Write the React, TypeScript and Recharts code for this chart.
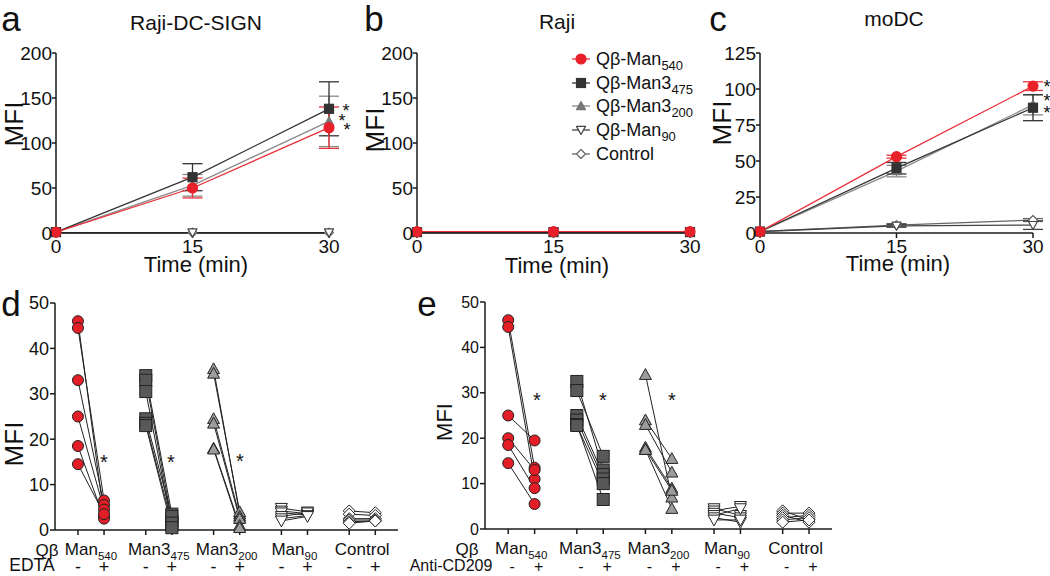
import React from 'react'
import { LineChart, Line, XAxis, YAxis, ErrorBar, ScatterChart, Scatter } from 'recharts'

const FONT = '"Liberation Sans", Arial, Helvetica, sans-serif'
const INK = '#1a1a1a'

// ---- time course panels (a-c) ----
const times = [0, 15, 30]

const aMan540 = [1, 50, 117]
const aMan540Err = [0, 11, 23]
const aMan3_475 = [1, 62, 138]
const aMan3_475Err = [0, 15, 30]
const aMan3_200 = [1, 53, 124]
const aMan3_200Err = [0, 12, 28]
const aMan90 = [0.5, 0.5, 0.5]
const aControl = [0.5, 0.5, 0.5]

const bMan540 = [1.5, 1.5, 1.5]
const bMan3_475 = [1, 1, 1]
const bMan3_200 = [1, 1, 1]
const bMan90 = [0.5, 0.5, 0.5]
const bControl = [0.5, 0.5, 0.5]

const cMan540 = [1, 53, 102]
const cMan540Err = [0, 1, 3]
const cMan3_475 = [1, 45, 87]
const cMan3_475Err = [0, 4, 9]
const cMan3_200 = [1, 43, 89]
const cMan3_200Err = [0, 4, 7]
const cMan90 = [1, 5, 5.5]
const cMan90Err = [0, 1, 3]
const cControl = [1, 5.5, 9]
const cControlErr = [0, 1, 1]

// ---- paired panels (d, e) ----
const groupBase = ['Man', 'Man3', 'Man3', 'Man', 'Control']
const groupSub = ['540', '475', '200', '90', '']

const dMan540Minus = [46, 44.5, 33, 25, 18.5, 14.5]
const dMan540Plus = [3, 6.5, 5.5, 4.5, 2.5, 3.5]
const dMan3_475Minus = [34, 33, 30.5, 24.5, 23.5, 23]
const dMan3_475Plus = [3.5, 2, 1, 3, 1.5, 0.5]
const dMan3_200Minus = [35.5, 34.5, 24.5, 23.5, 18, 17.8]
const dMan3_200Plus = [3.5, 4, 3, 2.5, 1, 0.5]
const dMan90Minus = [4.8, 4.2, 3.8, 3, 2.5, 2]
const dMan90Plus = [4, 3.6, 3.3, 3.8, 3.2, 3]
const dControlMinus = [4.2, 3.5, 2.5, 2.2, 1.8, 1.5]
const dControlPlus = [3.8, 3.2, 2.5, 2.2, 2, 2]

const eMan540Minus = [46, 44.5, 25, 20, 18.5, 14.5]
const eMan540Plus = [13.5, 11, 19.5, 13, 9, 5.5]
const eMan3_475Minus = [32.5, 30.5, 25, 24, 23, 22.8]
const eMan3_475Plus = [13, 16, 12, 11, 6.5, 10]
const eMan3_200Minus = [34, 24, 23, 18, 17.5, 17.5]
const eMan3_200Plus = [7, 15.5, 12.5, 9, 8.5, 4.5]
const eMan90Minus = [4.5, 4, 3.5, 3, 2.5, 2]
const eMan90Plus = [3, 5, 2.5, 4.5, 1.5, 2]
const eControlMinus = [4, 3.5, 3, 2.5, 2, 1.5]
const eControlPlus = [2, 3.5, 1.5, 3, 2.5, 2]

// draw order: bottom first
const SERIES = [
  { key: 'control', shape: 'diamond', fill: '#fff', stroke: '#666', line: '#666' },
  { key: 'man90', shape: 'down', fill: '#fff', stroke: '#444', line: '#444' },
  { key: 'man3_200', shape: 'triangle', fill: '#777', stroke: '#777', line: '#8a8a8a' },
  { key: 'man3_475', shape: 'square', fill: '#333', stroke: '#333', line: '#333' },
  { key: 'man540', shape: 'circle', fill: '#e8202a', stroke: '#e8202a', line: '#e8313a' },
]

const LEGEND = [
  { base: 'Qβ-Man', sub: '540', s: SERIES[4] },
  { base: 'Qβ-Man3', sub: '475', s: SERIES[3] },
  { base: 'Qβ-Man3', sub: '200', s: SERIES[2] },
  { base: 'Qβ-Man', sub: '90', s: SERIES[1] },
  { base: 'Control', sub: '', s: SERIES[0] },
]

const PAIR_STYLE = [
  { shape: 'circle', fill: '#e31e26' },
  { shape: 'square', fill: '#585858' },
  { shape: 'triangle', fill: '#9c9c9c' },
  { shape: 'down', fill: '#fff' },
  { shape: 'diamond', fill: '#fff' },
]

const STEP = 2.6
const pairTicks = groupBase.flatMap((_, i) => [i * STEP, i * STEP + 1])

function Marker({ shape, cx, cy, size, fill, stroke, sw = 1 }: any) {
  const h = size / 2
  if (cx == null || cy == null) return <g />
  if (shape === 'circle') return <circle cx={cx} cy={cy} r={h} fill={fill} stroke={stroke} strokeWidth={sw} />
  if (shape === 'square')
    return <rect x={cx - h} y={cy - h} width={size} height={size} fill={fill} stroke={stroke} strokeWidth={sw} />
  let pts = ''
  if (shape === 'triangle') pts = `${cx},${cy - h} ${cx + h},${cy + h * 0.8} ${cx - h},${cy + h * 0.8}`
  else if (shape === 'down') pts = `${cx - h},${cy - h * 0.8} ${cx + h},${cy - h * 0.8} ${cx},${cy + h}`
  else pts = `${cx},${cy - h} ${cx + h},${cy} ${cx},${cy + h} ${cx - h},${cy}`
  return <polygon points={pts} fill={fill} stroke={stroke} strokeWidth={sw} strokeLinejoin="round" />
}

function timeRows(series: number[][], errs: (number[] | null)[]) {
  return times.map((t, i) => {
    const row: any = { t }
    SERIES.forEach((s, k) => {
      row[s.key] = series[k][i]
      if (errs[k]) row[s.key + 'Err'] = (errs[k] as number[])[i]
    })
    return row
  })
}

const aRows = timeRows(
  [aControl, aMan90, aMan3_200, aMan3_475, aMan540],
  [null, null, aMan3_200Err, aMan3_475Err, aMan540Err]
)
const bRows = timeRows([bControl, bMan90, bMan3_200, bMan3_475, bMan540], [null, null, null, null, null])
const cRows = timeRows(
  [cControl, cMan90, cMan3_200, cMan3_475, cMan540],
  [cControlErr, cMan90Err, cMan3_200Err, cMan3_475Err, cMan540Err]
)

const tickStyle = { fill: '#111', fontSize: 19, fontFamily: FONT }

function TimePanel({ left, width, plotLeft, plotRight, rows, yMax, yTicks }: any) {
  return (
    <div style={{ position: 'absolute', left, top: 0 }}>
      <LineChart
        width={width}
        height={290}
        data={rows}
        margin={{ top: 53, right: left + width - plotRight, left: 0, bottom: 0 }}
      >
        <XAxis
          type="number"
          dataKey="t"
          domain={[0, 30]}
          ticks={[0, 15, 30]}
          height={57}
          tickSize={5}
          tickMargin={2}
          tick={tickStyle}
          stroke={INK}
          strokeWidth={1.5}
        />
        <YAxis
          domain={[0, yMax]}
          ticks={yTicks}
          width={plotLeft - left}
          tickSize={4}
          tickMargin={0}
          tick={tickStyle}
          stroke={INK}
          strokeWidth={1.5}
        />
        {SERIES.map((s) => (
          <Line
            key={s.key}
            dataKey={s.key}
            stroke={s.line}
            strokeWidth={1.3}
            isAnimationActive={false}
            dot={(p: any) => (
              <Marker
                key={`${s.key}-${p.index}`}
                shape={s.shape}
                cx={p.cx}
                cy={p.cy}
                size={s.shape === 'circle' ? 10 : 9}
                fill={s.fill}
                stroke={s.stroke}
                sw={1.2}
              />
            )}
            activeDot={false}
          >
            {rows[0][s.key + 'Err'] !== undefined && (
              <ErrorBar dataKey={s.key + 'Err'} width={10} stroke={s.line} strokeWidth={1.3} direction="y" />
            )}
          </Line>
        ))}
      </LineChart>
    </div>
  )
}

function PairTick({ x, y, index, labelSize, subSize, signSize, signShift, half }: any) {
  const g = Math.floor(index / 2)
  const plus = index % 2 === 1
  return (
    <g fontFamily={FONT} fill="#111">
      {!plus && (
        <text x={x + half} y={y + 20} textAnchor="middle" fontSize={labelSize} fill="#111">
          {groupBase[g]}
          {groupSub[g] && (
            <tspan fontSize={subSize} dy={5}>
              {groupSub[g]}
            </tspan>
          )}
        </text>
      )}
      <text x={x + signShift} y={y + 38} textAnchor="middle" fontSize={signSize} fill="#111">
        {plus ? '+' : '-'}
      </text>
    </g>
  )
}

function PairPanel(props: any) {
  const { left, width, yWidth, top, right, xHeight, minus, plus, yTickSize } = props
  return (
    <div style={{ position: 'absolute', left, top: 290 }}>
      <ScatterChart width={width} height={286} margin={{ top, right, left: 0, bottom: 0 }}>
        <XAxis
          type="number"
          dataKey="x"
          domain={[-0.88, 12.27]}
          ticks={pairTicks}
          allowDataOverflow
          height={xHeight}
          tickSize={5}
          tickMargin={0}
          stroke={INK}
          strokeWidth={1.5}
          interval={0}
          tick={(p: any) => <PairTick key={p.index} {...p} {...props.tickOpts} />}
        />
        <YAxis
          type="number"
          dataKey="y"
          domain={[0, 50]}
          ticks={[0, 10, 20, 30, 40, 50]}
          width={yWidth}
          tickSize={5}
          tickMargin={1}
          tick={{ fill: '#111', fontSize: yTickSize, fontFamily: FONT }}
          stroke={INK}
          strokeWidth={1.5}
        />
        {minus.map((vals: number[], g: number) =>
          vals.map((v, j) => (
            <Scatter
              key={`l-${g}-${j}`}
              data={[
                { x: g * STEP, y: v },
                { x: g * STEP + 1, y: plus[g][j] },
              ]}
              line={{ stroke: '#222', strokeWidth: 1 }}
              shape={() => <g />}
              isAnimationActive={false}
            />
          ))
        )}
        {minus.map((vals: number[], g: number) =>
          vals.map((v, j) => (
            <Scatter
              key={`m-${g}-${j}`}
              data={[
                { x: g * STEP, y: v },
                { x: g * STEP + 1, y: plus[g][j] },
              ]}
              shape={(p: any) => (
                <Marker
                  shape={PAIR_STYLE[g].shape}
                  cx={p.cx}
                  cy={p.cy}
                  size={PAIR_STYLE[g].shape === 'circle' ? 11 : 12}
                  fill={PAIR_STYLE[g].fill}
                  stroke="#222"
                  sw={1}
                />
              )}
              isAnimationActive={false}
            />
          ))
        )}
      </ScatterChart>
    </div>
  )
}

function Txt({ x, y, size, children, rotate }: any) {
  return (
    <div
      style={{
        position: 'absolute',
        left: x,
        top: y,
        transform: `translate(-50%, -50%)${rotate ? ' rotate(-90deg)' : ''}`,
        fontSize: size,
        fontFamily: FONT,
        color: '#111',
        whiteSpace: 'nowrap',
        lineHeight: 1,
      }}
    >
      {children}
    </div>
  )
}

function Legend() {
  return (
    <div style={{ position: 'absolute', left: 571, top: 47, fontFamily: FONT, fontSize: 18, color: '#111' }}>
      {LEGEND.map((l) => (
        <div key={l.base + l.sub} style={{ display: 'flex', alignItems: 'center', height: 23.7 }}>
          <svg width={20} height={14} style={{ marginRight: 5 }}>
            <line x1={1} y1={7} x2={19} y2={7} stroke={l.s.line} strokeWidth={1.3} />
            <Marker shape={l.s.shape} cx={10} cy={7} size={l.s.shape === 'circle' ? 10 : 9} fill={l.s.fill} stroke={l.s.stroke} sw={1.2} />
          </svg>
          <span style={{ lineHeight: 1 }}>
            {l.base}
            {l.sub && <sub style={{ fontSize: 13, lineHeight: 0 }}>{l.sub}</sub>}
          </span>
        </div>
      ))}
    </div>
  )
}

export default function App() {
  return (
    <div style={{ position: 'absolute', left: 0, top: 0, width: 1050, height: 576, background: '#fff', overflow: 'hidden' }}>
      <TimePanel left={0} width={360} plotLeft={56} plotRight={329} rows={aRows} yMax={200} yTicks={[0, 50, 100, 150, 200]} />
      <TimePanel left={340} width={380} plotLeft={417} plotRight={690} rows={bRows} yMax={200} yTicks={[0, 50, 100, 150, 200]} />
      <TimePanel left={700} width={350} plotLeft={760} plotRight={1033} rows={cRows} yMax={125} yTicks={[0, 25, 50, 75, 100, 125]} />
      <PairPanel
        left={0}
        width={405}
        yWidth={55}
        top={13}
        right={7}
        xHeight={46}
        yTickSize={18}
        minus={[dMan540Minus, dMan3_475Minus, dMan3_200Minus, dMan90Minus, dControlMinus]}
        plus={[dMan540Plus, dMan3_475Plus, dMan3_200Plus, dMan90Plus, dControlPlus]}
        tickOpts={{ labelSize: 17, subSize: 11.5, signSize: 18, signShift: 0, half: 13 }}
      />
      <PairPanel
        left={420}
        width={420}
        yWidth={65}
        top={12}
        right={8}
        xHeight={47}
        yTickSize={16}
        minus={[eMan540Minus, eMan3_475Minus, eMan3_200Minus, eMan90Minus, eControlMinus]}
        plus={[eMan540Plus, eMan3_475Plus, eMan3_200Plus, eMan90Plus, eControlPlus]}
        tickOpts={{ labelSize: 17, subSize: 11.5, signSize: 16, signShift: 4, half: 13 }}
      />
      <Legend />

      {/* panel letters */}
      <Txt x={11} y={18} size={35}>a</Txt>
      <Txt x={374} y={18} size={35}>b</Txt>
      <Txt x={718} y={18} size={35}>c</Txt>
      <Txt x={11} y={303} size={35}>d</Txt>
      <Txt x={427} y={303} size={35}>e</Txt>

      {/* titles */}
      <Txt x={196} y={22} size={21}>Raji-DC-SIGN</Txt>
      <Txt x={557} y={21} size={21}>Raji</Txt>
      <Txt x={894} y={18} size={21}>moDC</Txt>

      {/* axis titles */}
      <Txt x={14} y={124} size={26} rotate>MFI</Txt>
      <Txt x={375} y={130} size={26} rotate>MFI</Txt>
      <Txt x={722} y={123} size={26} rotate>MFI</Txt>
      <Txt x={196} y={265} size={22}>Time (min)</Txt>
      <Txt x={557} y={266} size={22}>Time (min)</Txt>
      <Txt x={898} y={264} size={22}>Time (min)</Txt>
      <Txt x={14} y={444} size={26} rotate>MFI</Txt>
      <Txt x={445} y={422} size={22} rotate>MFI</Txt>

      {/* significance marks */}
      <Txt x={346} y={111} size={18}>*</Txt>
      <Txt x={342} y={121} size={18}>*</Txt>
      <Txt x={347} y={130} size={18}>*</Txt>
      <Txt x={1047} y={87} size={18}>*</Txt>
      <Txt x={1047} y={101} size={18}>*</Txt>
      <Txt x={1047} y={113} size={18}>*</Txt>
      <Txt x={104} y={462} size={20}>*</Txt>
      <Txt x={171} y={462} size={20}>*</Txt>
      <Txt x={240} y={461} size={20}>*</Txt>
      <Txt x={537} y={400} size={20}>*</Txt>
      <Txt x={603} y={400} size={20}>*</Txt>
      <Txt x={672} y={400} size={20}>*</Txt>

      {/* row labels for d and e */}
      <Txt x={47} y={550} size={17}>Qβ</Txt>
      <Txt x={32} y={566} size={17.5}>EDTA</Txt>
      <Txt x={467} y={549} size={17}>Qβ</Txt>
      <Txt x={451} y={566} size={16}>Anti-CD209</Txt>
    </div>
  )
}
